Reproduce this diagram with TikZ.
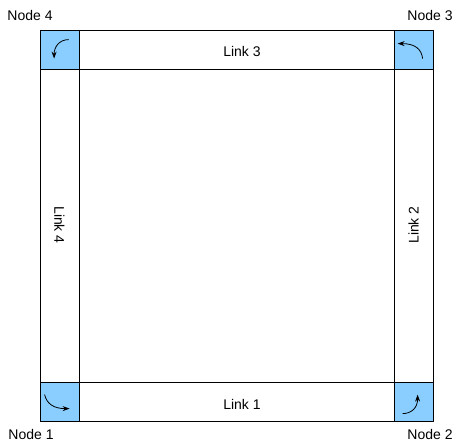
\documentclass[tikz,border=0pt]{standalone}
\usepackage{fontspec}
\setmainfont{Liberation Sans}
\usetikzlibrary{arrows.meta}
\definecolor{nodeblue}{RGB}{138,206,255}
\begin{document}
\begin{tikzpicture}[x=1pt,y=-1pt,
  every node/.style={font=\fontsize{14}{16}\selectfont},
  nodebox/.style={draw=black, fill=nodeblue, line width=0.8pt, minimum width=39pt, minimum height=39pt, inner sep=0pt},
  hlink/.style={draw=black, line width=0.8pt, minimum width=315pt, minimum height=39pt, inner sep=0pt},
  vlink/.style={draw=black, line width=0.8pt, minimum width=39pt, minimum height=313pt, inner sep=0pt},
  rotarrow/.style={line width=0.8pt, -{Stealth[length=7pt,width=5pt]}},
  lbl/.style={inner sep=0pt}
]
\useasboundingbox (0,0) rectangle (463,444);
\fill[white] (0,0) rectangle (463,444);
% links
\node[hlink] (l3) at (236.5,49.5) {};
\node[hlink] (l1) at (236.5,401.5) {};
\node[vlink] (l4) at (59.5,225.5) {};
\node[vlink] (l2) at (413.5,225.5) {};
\node (t3) at (242,51) {Link 3};
\node (t1) at (242,404) {Link 1};
\node[rotate=-90] (t4) at (59.5,225) {Link 4};
\node[rotate=90] (t2) at (413.5,225) {Link 2};
% nodes
\node[nodebox] (n4) at (59.5,49.5) {};
\node[nodebox] (n3) at (413.5,49.5) {};
\node[nodebox] (n1) at (59.5,401.5) {};
\node[nodebox] (n2) at (413.5,401.5) {};
% rotation arrows
\draw[rotarrow, shift={(n4.north west)}] (29,10) .. controls (20,10) and (14.5,17) .. (14.5,29);
\draw[rotarrow, shift={(n3.north west)}] (29,29) .. controls (28,20) and (22,14) .. (4,14);
\draw[rotarrow, shift={(n1.north west)}] (5,13) .. controls (7,22) and (14,27) .. (30,27);
\draw[rotarrow, shift={(n2.north west)}] (9,32) .. controls (18,32) and (24,26) .. (24,13);
% labels
\node[lbl] (ln4) at (30,15) {Node 4};
\node[lbl] (ln3) at (430,15) {Node 3};
\node[lbl] (ln1) at (31,434) {Node 1};
\node[lbl] (ln2) at (430,434) {Node 2};
\end{tikzpicture}
\end{document}
